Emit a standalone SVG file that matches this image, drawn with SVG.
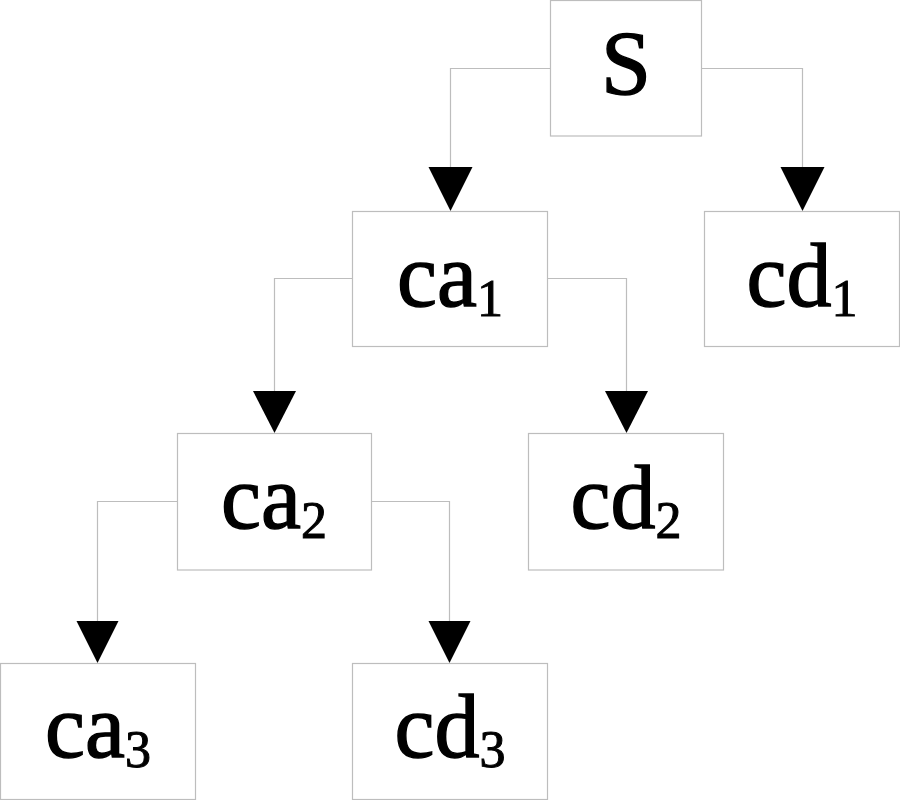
<svg xmlns="http://www.w3.org/2000/svg" width="900" height="800" viewBox="0 0 900 800">
<style>
.box{fill:#ffffff;stroke:#bdbdbd;stroke-width:1.2}
.lbl{font-family:"Liberation Serif","Times New Roman",serif;font-size:90px;fill:#000;stroke:#000;stroke-width:1.4;text-anchor:middle}
.sub{font-size:52px;stroke-width:1}
.conn{fill:none;stroke:#bdbdbd;stroke-width:1.2}
.head{fill:#000}
</style>
<rect width="900" height="800" fill="#ffffff"/>
<g id="connectors">
<path class="conn" d="M550.5,68.5H450.5V168"/>
<polygon class="head" points="428.5,167 472.5,167 450.5,211"/>
<path class="conn" d="M701.5,68.5H802.5V168"/>
<polygon class="head" points="780.5,167 824.5,167 802.5,211"/>
<path class="conn" d="M352.5,278.5H274.5V392"/>
<polygon class="head" points="253,391 296,391 274.5,433"/>
<path class="conn" d="M547.5,278.5H626.5V392"/>
<polygon class="head" points="605,391 648,391 626.5,433"/>
<path class="conn" d="M177.5,501.5H97.5V622"/>
<polygon class="head" points="76.5,621 118.5,621 97.5,663"/>
<path class="conn" d="M371.5,501.5H449.5V622"/>
<polygon class="head" points="428.5,621 470.5,621 449.5,663"/>
</g>
<g id="node-S">
<rect class="box" x="550.5" y="0.5" width="151" height="135.5"/>
<text class="lbl" x="626" y="94">S</text>
</g>
<g id="node-ca1">
<rect class="box" x="352.5" y="211.5" width="195" height="135"/>
<text class="lbl" x="450" y="306">ca<tspan class="sub" dy="10">1</tspan></text>
</g>
<g id="node-cd1">
<rect class="box" x="704.5" y="211.5" width="195" height="135"/>
<text class="lbl" x="802" y="306">cd<tspan class="sub" dy="10">1</tspan></text>
</g>
<g id="node-ca2">
<rect class="box" x="177.5" y="433.5" width="194" height="136.5"/>
<text class="lbl" x="274" y="528">ca<tspan class="sub" dy="10">2</tspan></text>
</g>
<g id="node-cd2">
<rect class="box" x="528.5" y="433.5" width="195" height="136.5"/>
<text class="lbl" x="626" y="528">cd<tspan class="sub" dy="10">2</tspan></text>
</g>
<g id="node-ca3">
<rect class="box" x="0.5" y="663.5" width="195" height="136"/>
<text class="lbl" x="98" y="757">ca<tspan class="sub" dy="10">3</tspan></text>
</g>
<g id="node-cd3">
<rect class="box" x="352.5" y="663.5" width="195" height="136"/>
<text class="lbl" x="450" y="757">cd<tspan class="sub" dy="10">3</tspan></text>
</g>
</svg>
